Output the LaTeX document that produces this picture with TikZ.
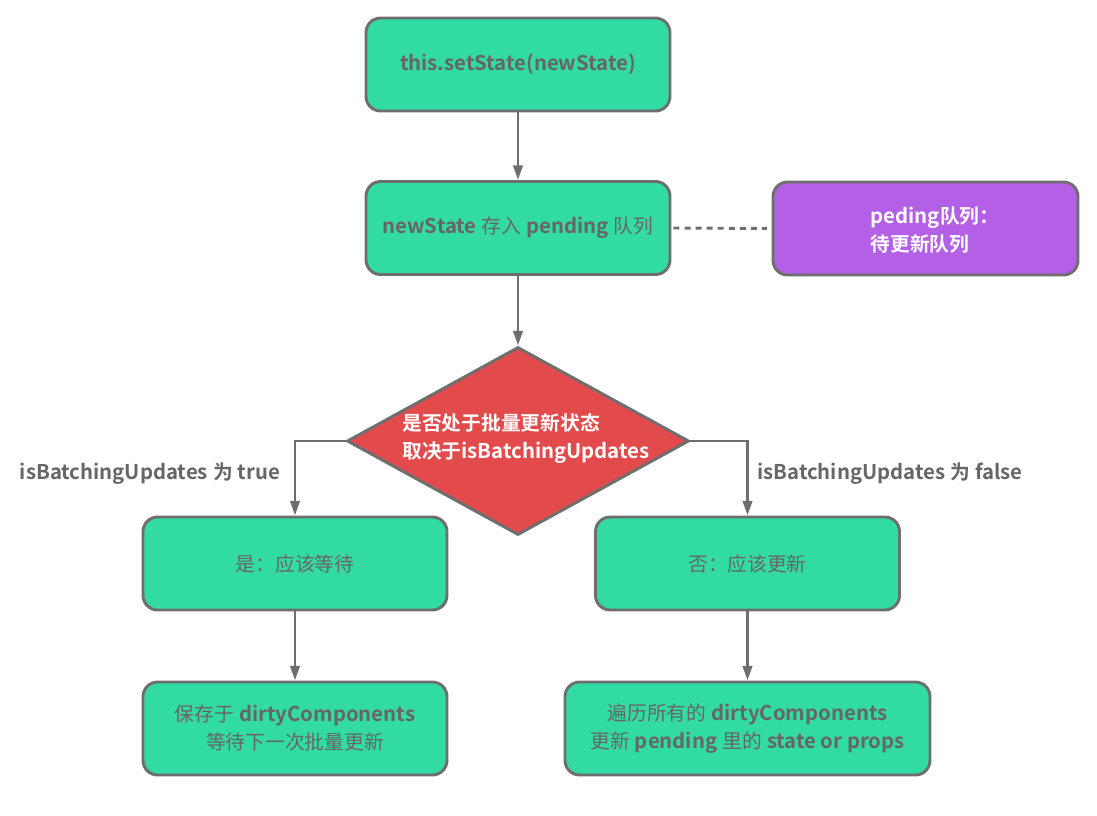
\documentclass[tikz,border=0pt]{standalone}
\usepackage{fontspec}
\setmainfont{Noto Sans}
\newfontfamily\cjk{Noto Sans CJK SC}
\newfontfamily\cjkb{Noto Sans CJK SC Bold}
\newfontfamily\latb{Noto Sans CJK SC Bold}[Scale=1.03]
\newcommand{\lb}[1]{{\latb #1}}
\usetikzlibrary{shapes.geometric,arrows.meta}
\definecolor{gfill}{HTML}{33DBA4}
\definecolor{pfill}{HTML}{B460E6}
\definecolor{rfill}{HTML}{E34A4C}
\definecolor{edge}{HTML}{6E6E6E}
\definecolor{gtext}{HTML}{666666}
\tikzset{
  box/.style={draw=edge, line width=2.2pt, rounded corners=11pt, fill=gfill,
    text=gtext, minimum width=228pt, minimum height=69.75pt, align=center,
    font=\fontsize{14.8}{21}\selectfont, inner sep=0pt},
  pbox/.style={box, fill=pfill, text=white, align=left},
  dia/.style={diamond, draw=edge, line width=2.2pt, fill=rfill,
    minimum width=256.5pt, minimum height=141pt, inner sep=0pt},
  conn/.style={draw=edge, line width=2.2pt, -{Triangle[length=11pt,width=7pt]}},
  dotline/.style={draw=edge, line width=2.2pt, dash pattern=on 4.5pt off 3.8pt},
  lbl/.style={text=gtext, font=\fontsize{14.8}{21}\selectfont, inner sep=0pt},
  dtext/.style={text=white, align=left, font=\fontsize{14.8}{21}\selectfont, inner sep=0pt}
}
\begin{document}
\begin{tikzpicture}[x=0.75pt, y=-0.75pt]
\useasboundingbox (0,0) rectangle (1097,815);
\node[box] (n1) at (518,64.5) {\lb{this.setState(newState)}};
\node[box] (n2) at (518,228) {\lb{newState} {\cjk 存入} \lb{pending} {\cjk 队列}};
\node[pbox, minimum width=228.75pt] (p) at (925.5,228.5) {};
\node[dtext] (pt) at (935,230) {\lb{peding}{\cjkb 队列：}\\{\cjkb 待更新队列}};
\node[dia] (d) at (518,441) {};
\node[dtext] (dt) at (526,438) {{\cjkb 是否处于批量更新状态}\\{\cjkb 取决于}\lb{isBatchingUpdates}};
\node[box] (l1) at (295,563.5) {{\cjk 是：应该等待}};
\node[box] (r1) at (747.5,563.5) {{\cjk 否：应该更新}};
\node[box] (l2) at (295,728.5) {{\cjk 保存于} \lb{dirtyComponents}\\{\cjk 等待下一次批量更新}};
\node[box, minimum width=273.75pt] (r2) at (747.5,728.5) {{\cjk 遍历所有的} \lb{dirtyComponents}\\{\cjk 更新} \lb{pending} {\cjk 里的} \lb{state or props}};
\node[lbl] (lt) at (150,474) {\lb{isBatchingUpdates} {\cjkb 为} \lb{true}};
\node[lbl] (rt) at (890,474) {\lb{isBatchingUpdates} {\cjkb 为} \lb{false}};
\draw[conn] (n1.south) -- (n2.north);
\draw[conn] (n2.south) -- (d.north);
\draw[dotline] ([xshift=1.5pt]n2.east) -- ([xshift=-3.5pt]p.west);
\draw[conn] (d.west) -| (l1.north);
\draw[conn] (d.east) -| (r1.north);
\draw[conn] (l1.south) -- (l2.north);
\draw[conn] (r1.south) -- (r2.north);
\end{tikzpicture}
\end{document}
